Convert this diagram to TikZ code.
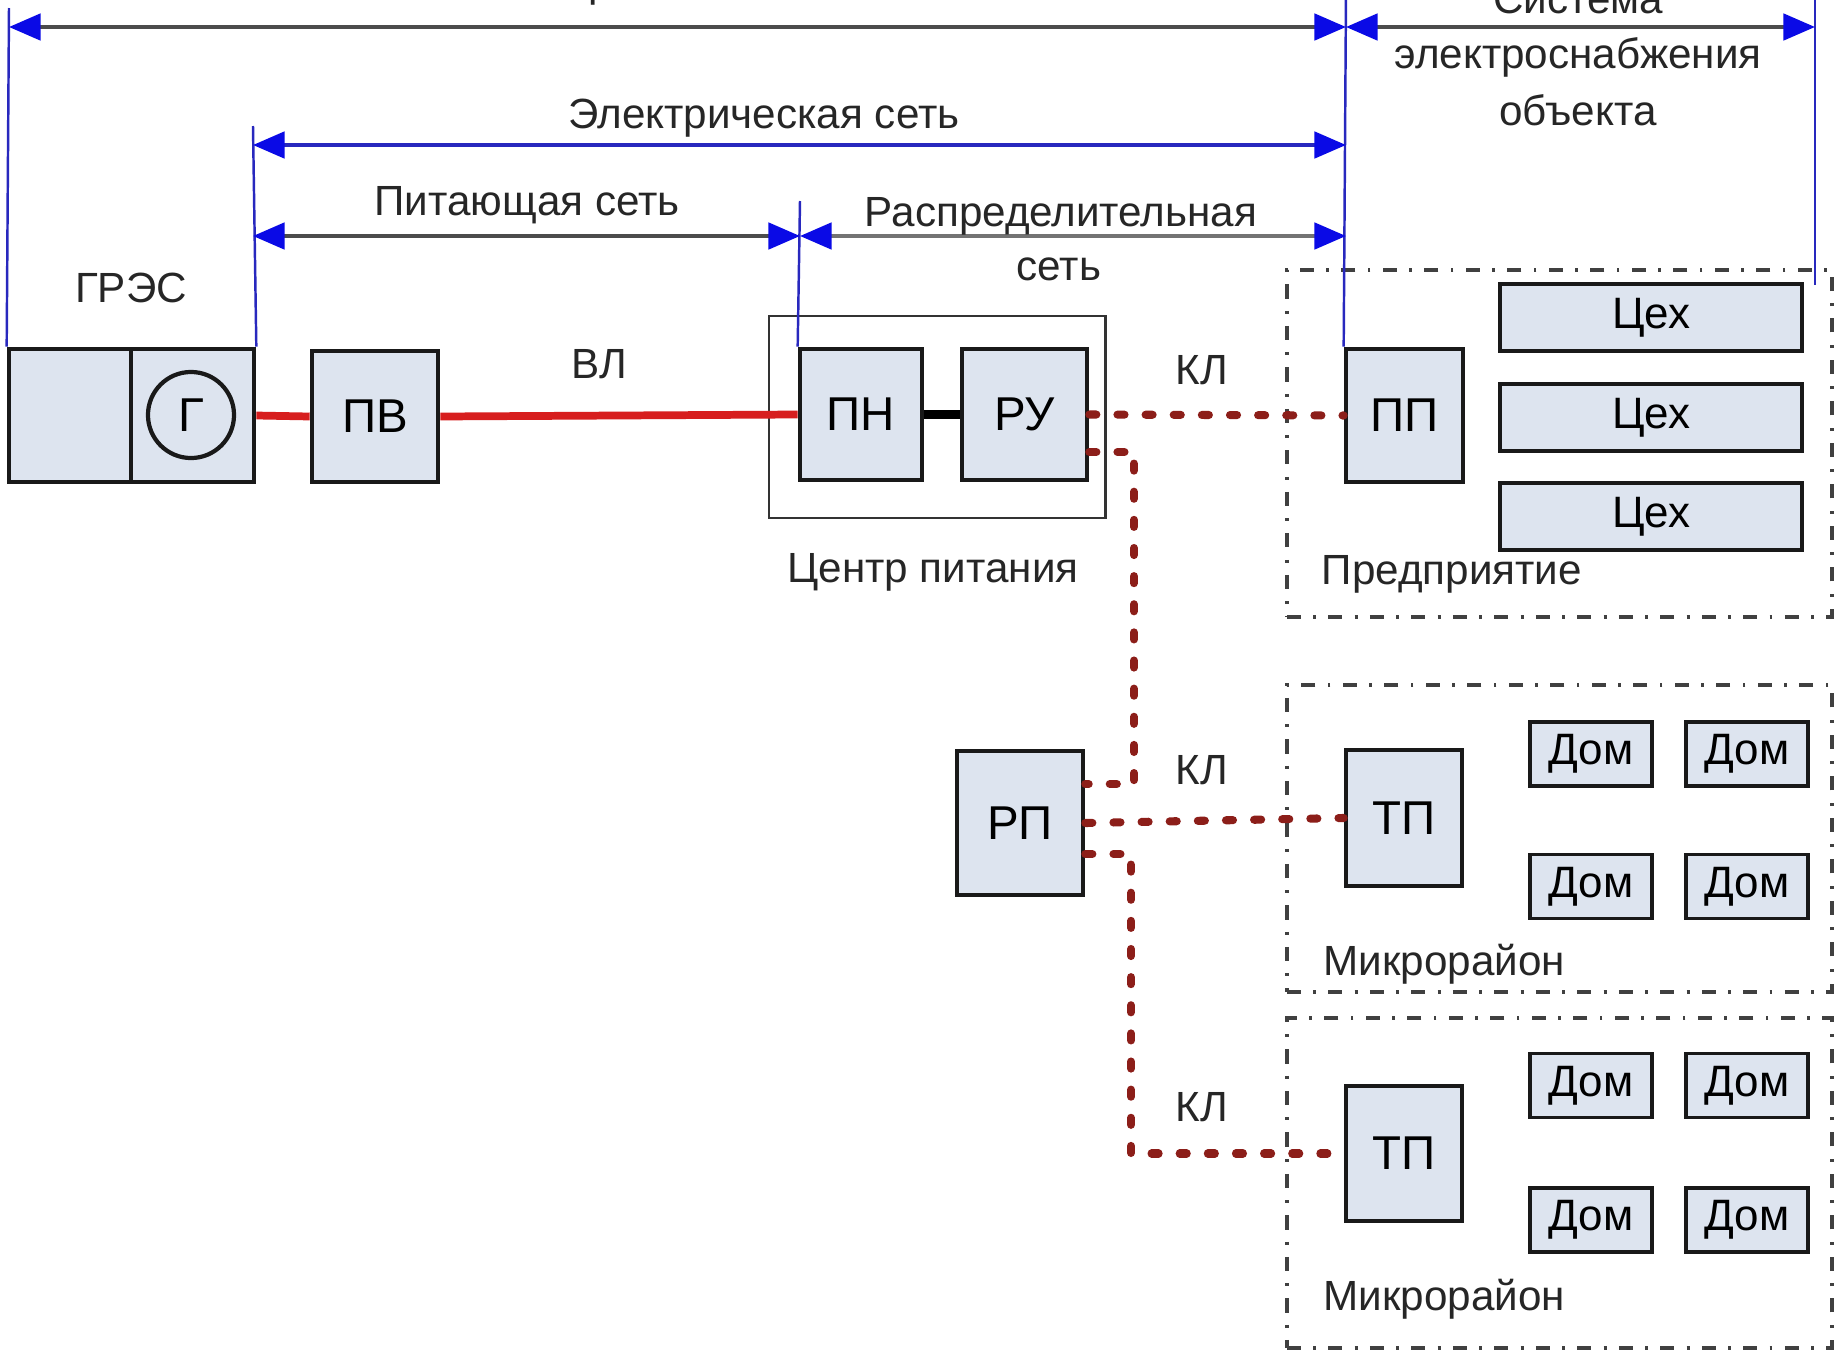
\documentclass[tikz,border=0pt]{standalone}
\usepackage{fontspec}
\setmainfont{Liberation Sans}
\usetikzlibrary{arrows.meta}
\definecolor{boxfill}{RGB}{221,228,239}
\definecolor{tipblue}{RGB}{10,10,230}
\definecolor{vblue}{RGB}{40,40,190}
\definecolor{klred}{RGB}{140,30,25}
\definecolor{vlred}{RGB}{215,30,30}
\begin{document}
\begin{tikzpicture}[x=0.01cm,y=-0.01cm,
 box/.style={draw=black!90,line width=1.3pt,fill=boxfill,inner sep=0pt,font=\fontsize{13.5}{15}\selectfont},
 sbox/.style={box,line width=1.1pt,font=\fontsize{12.5}{14}\selectfont},
 lbl/.style={inner sep=0pt,font=\fontsize{12}{14}\selectfont,text=black!85},
 dimline/.style={line width=1.1pt,{Triangle[length=9pt,width=7.5pt,color=tipblue]}-{Triangle[length=9pt,width=7.5pt,color=tipblue]}},
 vline/.style={draw=vblue,line width=0.7pt},
 kl/.style={draw=klred,line width=2.3pt,line cap=round,dash pattern=on 2pt off 6pt},
 vl/.style={draw=vlred,line width=2.2pt},
 ddbox/.style={draw=black!75,line width=1pt,dash pattern=on 4pt off 3.5pt on 0.8pt off 3.5pt,inner sep=0pt},
]
\useasboundingbox[fill=white] (0,0) rectangle (1835,1354);

% dash-dot containers
\node[ddbox,minimum width=5.45cm,minimum height=3.47cm] (ent) at (1559.5,443.5) {};
\node[ddbox,minimum width=5.45cm,minimum height=3.07cm] (md1) at (1559.5,838.5) {};
\node[ddbox,minimum width=5.45cm,minimum height=3.30cm] (md2) at (1559.5,1183) {};

% power centre frame
\node[draw=black!80,line width=0.8pt,minimum width=3.36cm,minimum height=2.02cm] (cp) at (937,417) {};

% boxes
\node[box,minimum width=1.22cm,minimum height=1.33cm] (gresL) at (70,415.5) {};
\node[box,minimum width=1.23cm,minimum height=1.33cm] (gresR) at (192.5,415.5) {};
\node[circle,draw=black!90,line width=1.2pt,minimum size=0.86cm,inner sep=0pt,font=\fontsize{13.5}{15}\selectfont] (gen) at (191,415) {Г};
\node[box,minimum width=1.26cm,minimum height=1.31cm] (pv) at (375,416.5) {ПВ};
\node[box,minimum width=1.22cm,minimum height=1.31cm] (pn) at (861,414.5) {ПН};
\node[box,minimum width=1.25cm,minimum height=1.31cm] (ru) at (1024.5,414.5) {РУ};
\node[box,minimum width=1.17cm,minimum height=1.33cm] (pp) at (1404.5,415.5) {ПП};
\node[box,minimum width=1.26cm,minimum height=1.44cm] (rp) at (1020,823) {РП};
\node[box,minimum width=1.16cm,minimum height=1.36cm] (tp1) at (1404,818) {ТП};
\node[box,minimum width=1.16cm,minimum height=1.35cm] (tp2) at (1404,1153.5) {ТП};

\foreach \n/\y in {c1/317.5,c2/417.5,c3/516.5}
  \node[sbox,minimum width=3.02cm,minimum height=0.67cm] (\n) at (1651,\y) {Цех};
\foreach \n/\x/\y in {d1/1591/754,d2/1747/754,d3/1591/886.5,d4/1747/886.5,
                      d5/1591/1085.5,d6/1747/1085.5,d7/1591/1220,d8/1747/1220}
  \node[sbox,minimum width=1.22cm,minimum height=0.64cm] (\n) at (\x,\y) {Дом};

% lines
\draw[vl] (gresR.east) -- (pv.west);
\draw[vl] (pv.east) -- (pn.west);
\draw[black,line width=2.6pt] (pn.east) -- (ru.west);
\draw[kl] (ru.east) -- (pp.west);
\coordinate (ruk) at (ru.east |- 0,452);
\coordinate (rpk1) at (rp.east |- 0,784);
\coordinate (rpk3) at (rp.east |- 0,854);
\draw[kl] (ruk) -- (1134,452) -- (1134,784) -- (rpk1);
\draw[kl] (rp.east) -- (tp1.west);
\draw[kl] (rpk3) -- (1131,854) -- (1131,1153.5) -- (tp2.west);

% dimension verticals
\coordinate (v1t) at (9,8);
\coordinate (v2t) at (253,126);
\coordinate (v3t) at (800,201);
\coordinate (v4t) at (1346,-5);
\coordinate (v5t) at (1815,-5);
\coordinate (v5b) at (1815,285);
\draw[vline] (v1t) -- (gresL.north west);
\draw[vline] (v2t) -- (gresR.north east);
\draw[vline] (v3t) -- (pn.north west);
\draw[vline] (v4t) -- (pp.north west);
\draw[vline] (v5t) -- (v5b);

% dimension arrows
\coordinate (a1) at (9,27);   \coordinate (a2) at (1346,27);  \coordinate (a3) at (1815,27);
\coordinate (b1) at (253,145); \coordinate (b2) at (1346,145);
\coordinate (c1a) at (253,236); \coordinate (c2a) at (800,236); \coordinate (c3a) at (1346,236);
\draw[dimline,draw=black!70] (a1) -- (a2);
\draw[dimline,draw=black!70] (a2) -- (a3);
\draw[dimline,draw=vblue] (b1) -- (b2);
\draw[dimline,draw=black!70] (c1a) -- (c2a);
\draw[dimline,draw=black!55] (c2a) -- (c3a);

% labels
\node[lbl,anchor=base] (tEn) at (661,-4) {Энергосистема};
\node[lbl,anchor=base] (tSys1) at (1578,13) {Система};
\node[lbl,anchor=base] (tSys2) at (1578,68) {электроснабжения};
\node[lbl,anchor=base] (tSys3) at (1578,125) {объекта};
\node[lbl,anchor=base] (tEl) at (764,128) {Электрическая сеть};
\node[lbl,anchor=base] (tPit) at (527,215) {Питающая сеть};
\node[lbl,anchor=base] (tRas1) at (1061,226) {Распределительная};
\node[lbl,anchor=base] (tRas2) at (1059,280) {сеть};
\node[lbl,anchor=base] (tGres) at (131,302) {ГРЭС};
\node[lbl,anchor=base] (tVL) at (599,378) {ВЛ};
\node[lbl,anchor=base] (tKL1) at (1202,384) {КЛ};
\node[lbl,anchor=base] (tKL2) at (1202,784) {КЛ};
\node[lbl,anchor=base] (tKL3) at (1202,1121) {КЛ};
\node[lbl,anchor=base] (tCP) at (933,582) {Центр питания};
\node[lbl,anchor=base west] (tEnt) at (1321,584) {Предприятие};
\node[lbl,anchor=base west] (tMd1) at (1323,975) {Микрорайон};
\node[lbl,anchor=base west] (tMd2) at (1323,1310) {Микрорайон};
\end{tikzpicture}
\end{document}
